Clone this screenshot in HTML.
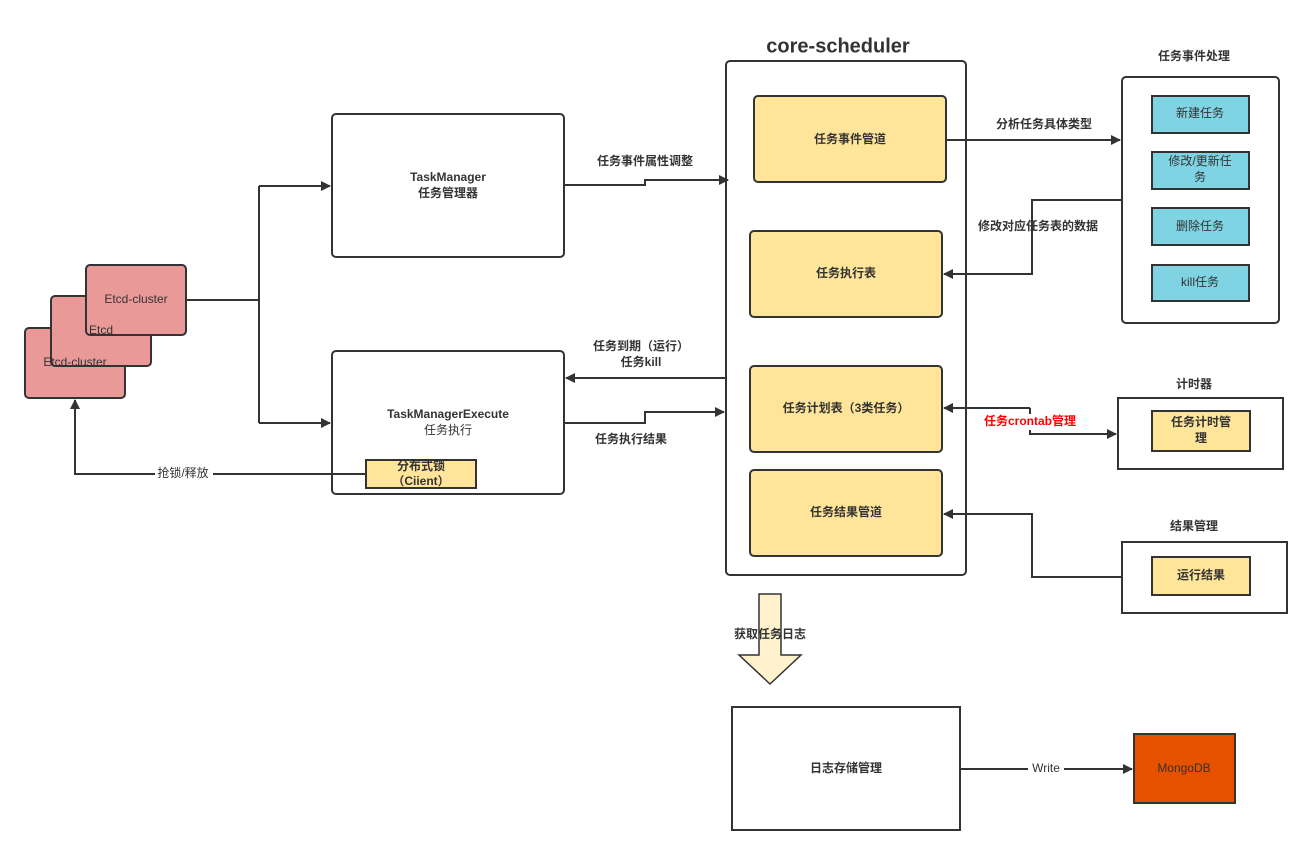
<!DOCTYPE html>
<html><head><meta charset="utf-8"><style>
body{margin:0;background:#fff}
text{font-family:"Liberation Sans","Noto Sans CJK SC",sans-serif;font-size:12px;fill:#333;text-anchor:middle;dominant-baseline:middle}
.b{font-weight:bold}
</style></head><body>
<svg width="1312" height="855" xmlns="http://www.w3.org/2000/svg">
<defs><marker id="a" markerWidth="10" markerHeight="10" refX="9" refY="5" orient="auto" markerUnits="userSpaceOnUse"><path d="M0,0 L10,5 L0,10 z" fill="#333"/></marker></defs>
<g stroke="#333" stroke-width="2" fill="none">
<rect x="332" y="114" width="232" height="143" rx="4" fill="#fff"/>
<rect x="332" y="351" width="232" height="143" rx="4" fill="#fff"/>
<rect x="25" y="328" width="100" height="70" rx="4" fill="#EA9999"/>
<rect x="51" y="296" width="100" height="70" rx="4" fill="#EA9999"/>
<rect x="86" y="265" width="100" height="70" rx="4" fill="#EA9999"/>
<rect x="366" y="460" width="110" height="28" fill="#FFE599"/>
<rect x="726" y="61" width="240" height="514" rx="4" fill="#fff"/>
<rect x="754" y="96" width="192" height="86" rx="4" fill="#FFE599"/>
<rect x="750" y="231" width="192" height="86" rx="4" fill="#FFE599"/>
<rect x="750" y="366" width="192" height="86" rx="4" fill="#FFE599"/>
<rect x="750" y="470" width="192" height="86" rx="4" fill="#FFE599"/>
<rect x="1122" y="77" width="157" height="246" rx="4" fill="#fff"/>
<rect x="1152" y="96" width="97" height="37" fill="#7FD3E3"/>
<rect x="1152" y="152" width="97" height="37" fill="#7FD3E3"/>
<rect x="1152" y="208" width="97" height="37" fill="#7FD3E3"/>
<rect x="1152" y="265" width="97" height="36" fill="#7FD3E3"/>
<rect x="1118" y="398" width="165" height="71" fill="#fff"/>
<rect x="1152" y="411" width="98" height="40" fill="#FFE599"/>
<rect x="1122" y="542" width="165" height="71" fill="#fff"/>
<rect x="1152" y="557" width="98" height="38" fill="#FFE599"/>
<rect x="732" y="707" width="228" height="123" fill="#fff"/>
<rect x="1134" y="734" width="101" height="69" fill="#E65100"/>
<path d="M759,594 H781 V655 H801 L770,684 L739,655 H759 Z" fill="#FFF2CC" stroke-width="1.5"/>
<path d="M186,300 H259 M259,186 V423"/>
<path d="M259,186 H330" marker-end="url(#a)"/>
<path d="M259,423 H330" marker-end="url(#a)"/>
<path d="M366,474 H75 V400" marker-end="url(#a)"/>
<path d="M564,185 H645 V180 H728" marker-end="url(#a)"/>
<path d="M726,378 H566" marker-end="url(#a)"/>
<path d="M564,423 H645 V412 H724" marker-end="url(#a)"/>
<path d="M946,140 H1120" marker-end="url(#a)"/>
<path d="M1122,200 H1032 V274 H944" marker-end="url(#a)"/>
<path d="M1030,408 H944" marker-end="url(#a)"/>
<path d="M1030,408 V434 H1116" marker-end="url(#a)"/>
<path d="M1122,577 H1032 V514 H944" marker-end="url(#a)"/>
<path d="M960,769 H1132" marker-end="url(#a)"/>
</g>
<rect x="1028" y="762" width="36" height="14" fill="#fff"/>
<rect x="155" y="467" width="58" height="14" fill="#fff"/>
<rect x="976" y="414" width="110" height="16" fill="#fff"/>
<text x="448" y="178" class="b">TaskManager</text><text x="448" y="194" class="b">任务管理器</text>
<text x="448" y="415" class="b">TaskManagerExecute</text><text x="448" y="431">任务执行</text>
<text x="421" y="467" class="b">分布式锁</text><text x="421" y="482" class="b">（Ciient）</text>
<text x="75" y="363">Etcd-cluster</text>
<text x="101" y="331">Etcd</text>
<text x="136" y="300">Etcd-cluster</text>
<text x="183" y="474">抢锁/释放</text>
<text x="838" y="47" class="b" style="font-size:20px">core-scheduler</text>
<text x="850" y="140" class="b">任务事件管道</text>
<text x="846" y="274" class="b">任务执行表</text>
<text x="846" y="409" class="b">任务计划表（3类任务）</text>
<text x="846" y="513" class="b">任务结果管道</text>
<text x="645" y="162" class="b">任务事件属性调整</text>
<text x="641" y="347" class="b">任务到期（运行）</text><text x="641" y="363" class="b">任务kill</text>
<text x="631" y="440" class="b">任务执行结果</text>
<text x="1044" y="125" class="b">分析任务具体类型</text>
<text x="1038" y="227" class="b">修改对应任务表的数据</text>
<text x="1194" y="57" class="b">任务事件处理</text>
<text x="1200" y="114">新建任务</text>
<text x="1200" y="162">修改/更新任</text><text x="1200" y="178">务</text>
<text x="1200" y="227">删除任务</text>
<text x="1200" y="283">kill任务</text>
<text x="1194" y="385" class="b">计时器</text>
<text x="1201" y="423" class="b">任务计时管</text><text x="1201" y="439" class="b">理</text>
<text x="1030" y="422" class="b" style="fill:#f00">任务crontab管理</text>
<text x="1194" y="527" class="b">结果管理</text>
<text x="1201" y="576" class="b">运行结果</text>
<text x="770" y="635" class="b">获取任务日志</text>
<text x="846" y="769" class="b">日志存储管理</text>
<text x="1046" y="769">Write</text>
<text x="1184" y="769">MongoDB</text>
</svg>
</body></html>
